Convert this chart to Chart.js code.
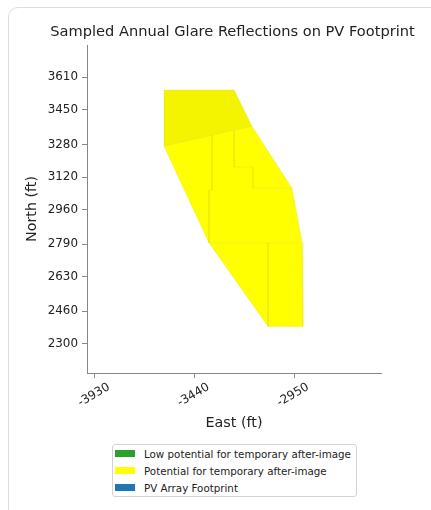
<!DOCTYPE html>
<html>
<head>
<meta charset="utf-8">
<script src="https://cdn.jsdelivr.net/npm/chart.js@4.4.1/dist/chart.umd.min.js"></script>
<style>
  html, body { margin: 0; padding: 0; background: #fff; overflow: hidden; }
  body { width: 431px; height: 510px; position: relative; font-family: "DejaVu Sans", sans-serif; }
  .card { position: absolute; left: 8px; top: 7px; width: 470px; height: 540px; border: 1px solid #dedede; border-radius: 10px; }
  #wrap { position: absolute; left: 0; top: 0; width: 431px; height: 510px; }
  .legend { position: absolute; left: 112px; top: 444px; width: 245px; height: 53px; box-sizing: border-box;
            border: 1px solid #d4d4d4; border-radius: 3px; background: #fff; font-size: 10.3px; color: #222; }
  .legend-row { display: flex; align-items: center; height: 17px; }
  .swatch { width: 20px; height: 7px; margin-left: 2px; margin-right: 9px; }
</style>
</head>
<body>
<div class="card"></div>
<div id="wrap"><canvas id="glareChart" width="431" height="510"></canvas></div>
<div class="legend" id="legend"></div>
<script>
// axis ticks (ft)
const xTicks = [-3930, -3440, -2950];
const yTicks = [2300, 2460, 2630, 2790, 2960, 3120, 3280, 3450, 3610];

// sampled glare patches, [east, north] in ft
const glareTop = [[-3590, 3548], [-3245, 3548], [-3157, 3370], [-3245, 3351], [-3354, 3326], [-3590, 3272]];
const glareLeft = [[-3590, 3272], [-3354, 3326], [-3354, 3056], [-3369, 3056], [-3369, 2797]];
const glareMid = [[-3354, 3326], [-3245, 3351], [-3245, 3169], [-3152, 3169], [-3152, 3065], [-2960, 3065],
                  [-2910, 2797], [-3369, 2797], [-3369, 3056], [-3354, 3056]];
const glareRight = [[-3245, 3351], [-3157, 3370], [-2960, 3065], [-3152, 3065], [-3152, 3169], [-3245, 3169]];
const glareLowLeft = [[-3369, 2797], [-3078, 2797], [-3078, 2386]];
const glareLowRight = [[-3078, 2797], [-2910, 2797], [-2906, 2386], [-3078, 2386]];

const legendLabels = ["Low potential for temporary after-image", "Potential for temporary after-image", "PV Array Footprint"];
const legendColors = ["#2ca02c", "#ffff00", "#1f77b4"];

const titleText = 'Sampled Annual Glare Reflections on PV Footprint';

const FONT = "'DejaVu Sans', sans-serif";
Chart.defaults.font.family = FONT;
Chart.defaults.color = '#222';

function patch(points, fillColor) {
    const data = points.map(p => ({x: p[0], y: p[1]}));
    data.push({x: points[0][0], y: points[0][1]});
    return {
        data: data,
        backgroundColor: fillColor,
        borderColor: 'rgba(205,205,0,0.2)',
        borderWidth: 1,
        pointRadius: 0,
        tension: 0,
        fill: 'shape'
    };
}

// title centred over the axes, x tick labels rotated about their centre
const extraText = {
    id: 'extraText',
    afterDraw(chart) {
        const sc = chart.scales.x;
        const area = chart.chartArea;
        const ctx = chart.ctx;
        ctx.save();
        ctx.fillStyle = '#222';
        ctx.textAlign = 'center';
        ctx.textBaseline = 'middle';
        ctx.font = '14.6px ' + FONT;
        ctx.fillText(titleText, (area.left + area.right) / 2 - 1.5, 32);
        ctx.font = '12px ' + FONT;
        xTicks.forEach(function (v) {
            ctx.save();
            ctx.translate(sc.getPixelForValue(v) - 1, area.bottom + 22);
            ctx.rotate(-Math.PI / 6);
            ctx.fillText(String(v), 0, 0);
            ctx.restore();
        });
        ctx.restore();
    }
};

const ctx = document.getElementById('glareChart').getContext('2d');
new Chart(ctx, {
    type: 'line',
    data: {
        datasets: [
            patch(glareTop, '#f4f400'),
            patch(glareLeft, '#ffff00'),
            patch(glareMid, '#ffff00'),
            patch(glareRight, '#ffff00'),
            patch(glareLowLeft, '#ffff00'),
            patch(glareLowRight, '#ffff00')
        ]
    },
    options: {
        responsive: false,
        animation: false,
        layout: { padding: { left: 0, right: 50, top: 45, bottom: 78.4 } },
        plugins: {
            legend: { display: false },
            tooltip: { enabled: false },
            title: { display: false }
        },
        scales: {
            x: {
                type: 'linear',
                min: -3969,
                max: -2522,
                afterBuildTicks: function (axis) { axis.ticks = xTicks.map(v => ({value: v})); },
                afterFit: function (axis) { axis.height = 58.6; },
                ticks: { display: false },
                grid: { drawOnChartArea: false, color: '#888', tickLength: 5 },
                border: { display: true, color: '#888' },
                title: { display: true, text: 'East (ft)', color: '#222', font: { size: 14.3 }, padding: { top: 0, bottom: 0 } }
            },
            y: {
                type: 'linear',
                min: 2157,
                max: 3769,
                afterBuildTicks: function (axis) { axis.ticks = yTicks.map(v => ({value: v})); },
                afterFit: function (axis) { axis.width = 87; },
                ticks: {
                    color: '#222', padding: 4, font: { size: 11.9 }, autoSkip: false,
                    callback: function (v) { return String(v); }
                },
                grid: { drawOnChartArea: false, color: '#888', tickLength: 5 },
                border: { display: true, color: '#888' },
                title: { display: true, text: 'North (ft)', color: '#222', font: { size: 14.3 }, padding: { top: 24, bottom: 0 } }
            }
        }
    },
    plugins: [extraText]
});

const legend = document.getElementById('legend');
legendLabels.forEach(function (label, i) {
    const row = document.createElement('div');
    row.className = 'legend-row';
    row.innerHTML = '<span class="swatch" style="background:' + legendColors[i] + '"></span><span>' + label + '</span>';
    legend.appendChild(row);
});
</script>
</body>
</html>
